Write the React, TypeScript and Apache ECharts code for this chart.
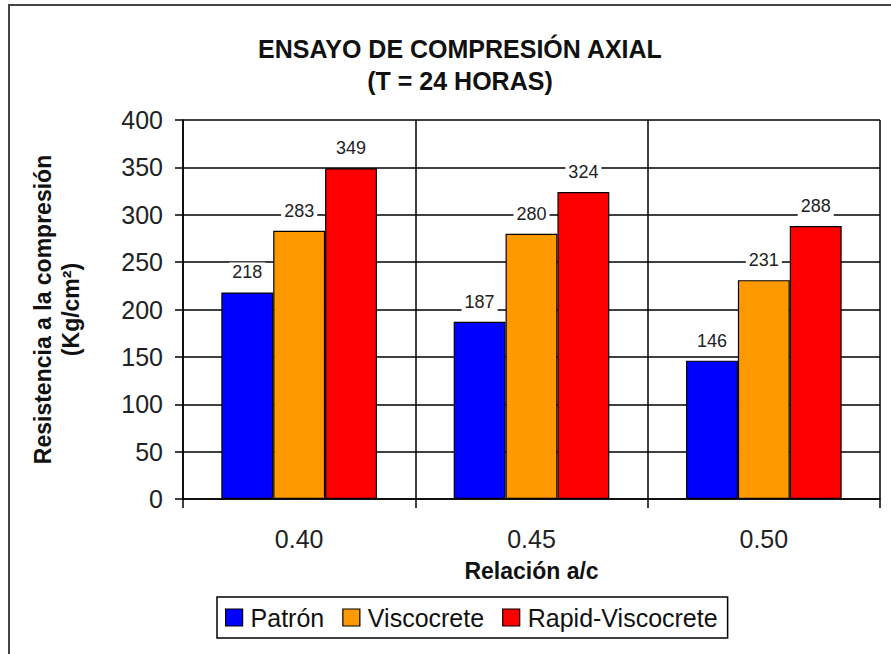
import React, { useEffect, useRef } from "react";
import * as echarts from "echarts";

const categories = ["0.40", "0.45", "0.50"];
const seriesNames = ["Patrón", "Viscocrete", "Rapid-Viscocrete"];
const patron = [218, 187, 146];
const viscocrete = [283, 280, 231];
const rapid = [349, 324, 288];
const colors = ["#0000FF", "#FF9900", "#FF0000"];
const yTicks = { min: 0, max: 400, interval: 50 };

const FONT = "'Liberation Sans', Arial, sans-serif";

export default function App() {
  const ref = useRef<HTMLDivElement>(null);
  useEffect(() => {
    if (!ref.current) return;
    const chart = echarts.init(ref.current, undefined, { renderer: "svg" });
    const values = [patron, viscocrete, rapid];
    chart.setOption({
      animation: false,
      backgroundColor: "#fff",
      textStyle: { fontFamily: FONT },
      title: {
        text: "ENSAYO DE COMPRESIÓN AXIAL\n(T = 24 HORAS)",
        left: 455,
        top: 28,
        textAlign: "center",
        textStyle: { fontSize: 25, fontWeight: "bold", color: "#111", lineHeight: 32, fontFamily: FONT },
      },
      graphic: [
        {
          type: "rect",
          shape: { x: 9, y: 5, width: 900, height: 700 },
          style: { fill: "none", stroke: "#444", lineWidth: 2 },
          silent: true,
        },
      ],
      legend: {
        data: seriesNames,
        left: 217,
        top: 597,
        orient: "horizontal",
        borderColor: "#000",
        borderWidth: 1.5,
        padding: [8, 10, 8, 8],
        itemGap: 18,
        itemWidth: 17,
        itemHeight: 17,
        icon: "rect",
        itemStyle: { borderColor: "#000", borderWidth: 1.2 },
        textStyle: { fontSize: 25, color: "#111", fontFamily: FONT, padding: [0, 0, 0, 3] },
      },
      grid: { left: 183, top: 120, right: 11, bottom: 155, containLabel: false },
      xAxis: {
        type: "category",
        data: categories,
        name: "Relación a/c",
        nameLocation: "middle",
        nameGap: 60,
        nameTextStyle: { fontSize: 23, fontWeight: "bold", color: "#111", fontFamily: FONT },
        axisLine: { lineStyle: { color: "#000", width: 1.5 } },
        axisTick: { show: true, length: 9, interval: 0, lineStyle: { color: "#000", width: 1.5 } },
        axisLabel: { fontSize: 25, color: "#222", margin: 27, fontFamily: FONT },
        splitLine: { show: true, interval: 0, lineStyle: { color: "#000", width: 1.5 } },
      },
      yAxis: {
        type: "value",
        min: yTicks.min,
        max: yTicks.max,
        interval: yTicks.interval,
        name: "Resistencia a la compresión\n(Kg/cm²)",
        nameLocation: "middle",
        nameGap: 98,
        nameTextStyle: { fontSize: 23, fontWeight: "bold", color: "#111", lineHeight: 28, fontFamily: FONT },
        axisLine: { show: true, lineStyle: { color: "#000", width: 1.5 } },
        axisTick: { show: true, length: 8, lineStyle: { color: "#000", width: 1.5 } },
        axisLabel: { fontSize: 25, color: "#222", margin: 20, fontFamily: FONT },
        splitLine: { show: true, lineStyle: { color: "#000", width: 1.5 } },
      },
      series: seriesNames.map((name, i) => ({
        name,
        type: "bar",
        data: values[i],
        barGap: "0%",
        barCategoryGap: "33%",
        itemStyle: { color: colors[i], borderColor: "#000", borderWidth: 1.2 },
        label: {
          show: true,
          position: "top",
          distance: 10,
          fontSize: 18,
          color: "#222",
          backgroundColor: "#fff",
          padding: [1, 3],
          fontFamily: FONT,
        },
      })),
    });
    return () => chart.dispose();
  }, []);
  return (
    <div
      ref={ref}
      style={{ position: "fixed", left: 0, top: 0, width: 891, height: 654 }}
    />
  );
}
